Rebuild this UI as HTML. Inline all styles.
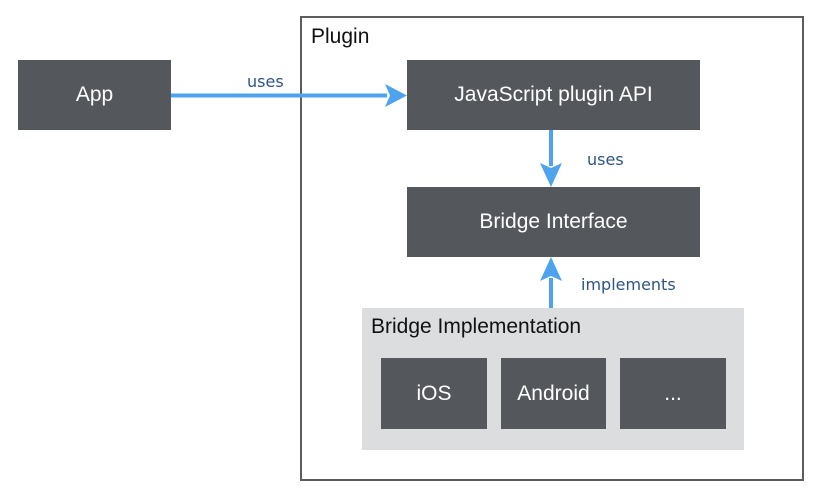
<!DOCTYPE html>
<html><head><meta charset="utf-8"><style>
html,body{margin:0;padding:0;background:#fff;}
body{width:814px;height:488px;position:relative;overflow:hidden;font-family:"Liberation Sans",sans-serif;}
.b{position:absolute;background:#54575c;color:#fff;display:flex;align-items:center;justify-content:center;font-size:21px;}
.lbl{position:absolute;color:#2c5585;font-family:"DejaVu Sans","Liberation Sans",sans-serif;font-size:16px;}
</style></head><body>
<div style="position:absolute;left:300px;top:16px;width:500px;height:461px;border:2px solid #5a5c60;"></div>
<div style="position:absolute;left:311px;top:25px;font-size:21px;color:#111;">Plugin</div>
<div class="b" style="left:18px;top:60px;width:153px;height:70px;">App</div>
<div class="b" style="left:407px;top:60px;width:293px;height:70px;">JavaScript plugin API</div>
<div class="b" style="left:407px;top:187px;width:293px;height:70px;">Bridge Interface</div>
<div style="position:absolute;left:362px;top:308px;width:382px;height:142px;background:#dcdddf;"></div>
<div style="position:absolute;left:371px;top:315px;font-size:21px;color:#111;">Bridge Implementation</div>
<div class="b" style="left:381px;top:358px;width:106px;height:71px;">iOS</div>
<div class="b" style="left:501px;top:358px;width:105px;height:71px;">Android</div>
<div class="b" style="left:620px;top:358px;width:106px;height:71px;">...</div>
<svg width="814" height="488" style="position:absolute;left:0;top:0">
<g fill="#4ea3ef" stroke="none">
<rect x="171" y="93.5" width="216" height="4"/>
<polygon points="385,84 407,95.5 385,107 390,95.5"/>
<rect x="549" y="130" width="4" height="36"/>
<polygon points="540,163 551,187 562,163 551,168"/>
<rect x="549" y="278" width="4" height="30"/>
<polygon points="540,281 551,257 562,281 551,276"/>
</g>
</svg>
<div class="lbl" style="left:247px;top:72px;">uses</div>
<div class="lbl" style="left:587px;top:150px;">uses</div>
<div class="lbl" style="left:581px;top:275px;">implements</div>
</body></html>
